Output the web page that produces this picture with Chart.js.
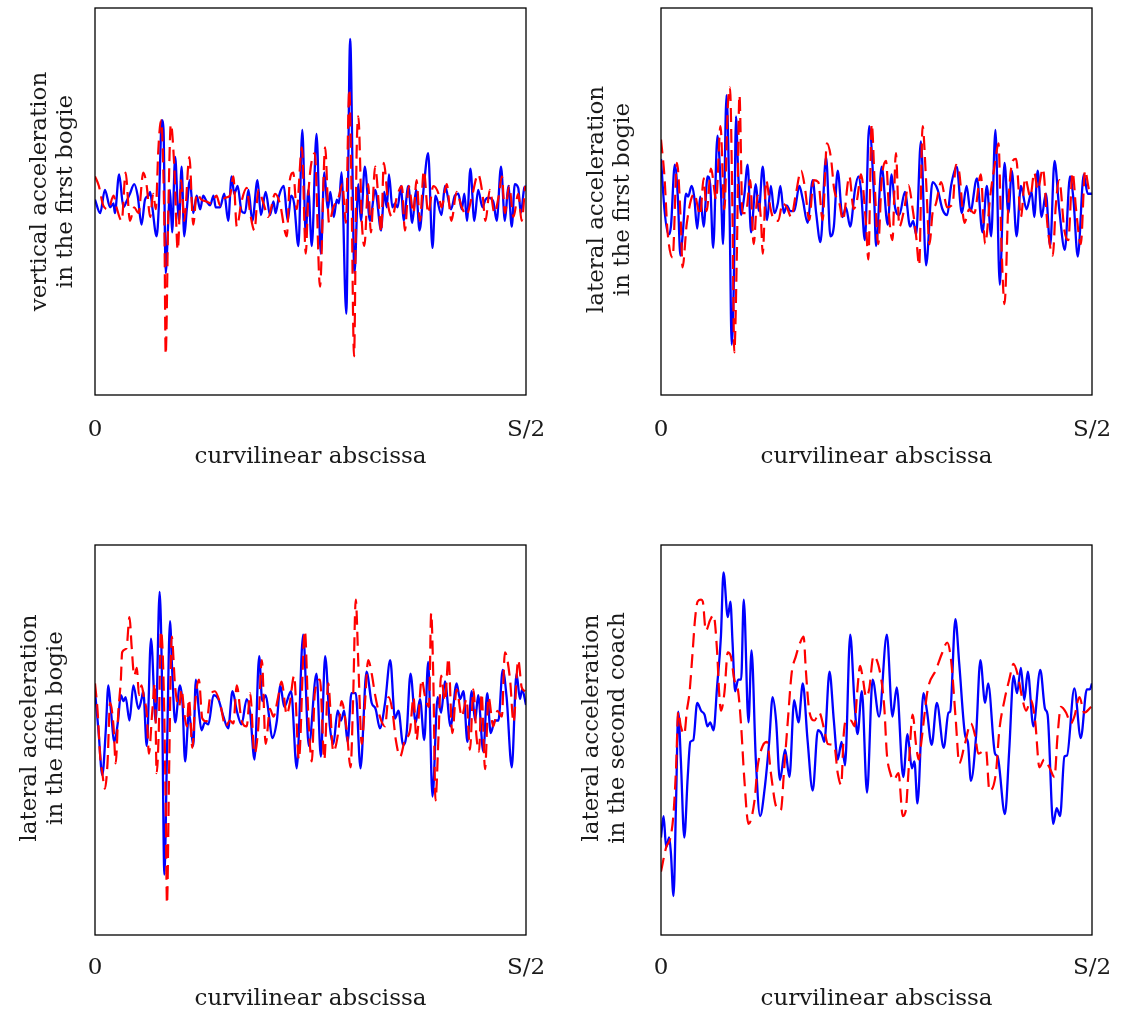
<!DOCTYPE html>
<html>
<head>
<meta charset="utf-8">
<script src="https://cdn.jsdelivr.net/npm/chart.js@4.4.1/dist/chart.umd.min.js"></script>
<style>
  html, body { margin: 0; padding: 0; background: #ffffff; }
  body { width: 1123px; height: 1014px; position: relative; overflow: hidden; }
  canvas { position: absolute; }
</style>
</head>
<body>
<canvas id="c1" width="561" height="507" style="left:0px;top:0px"></canvas>
<canvas id="c2" width="561" height="507" style="left:566px;top:0px"></canvas>
<canvas id="c3" width="561" height="507" style="left:0px;top:507px"></canvas>
<canvas id="c4" width="561" height="507" style="left:566px;top:507px"></canvas>
<script>
// ---------- DATA (abscissa in % of S/2, acceleration in arbitrary units) ----------
const xTickValues = [0, 100];
const xTickLabels = ['0', 'S/2'];
const xAxisTitle = 'curvilinear abscissa';

const panelTitles = [
  ['vertical acceleration', 'in the first bogie'],
  ['lateral acceleration', 'in the first bogie'],
  ['lateral acceleration', 'in the fifth bogie'],
  ['lateral acceleration', 'in the second coach']
];

// Panel 1 : vertical acceleration, first bogie
const vertBogie1Solid = [[0,0.1],[1.2,-0.6],[2.3,0.6],[3.5,-0.3],[4.3,-0.1],[4.6,-0.6],[5.6,1.4],[6.6,-0.3],[7.3,0.0],[8.1,0.4],[9.1,0.9],[9.9,0.3],[10.8,-1.2],[11.6,0.1],[12.4,0.3],[12.8,0.5],[13.3,-0.3],[14.3,-1.8],[14.8,-0.3],[15.5,4.2],[15.9,3.7],[16.4,-3.7],[17.0,-1.0],[17.4,0.6],[17.9,-1.6],[18.6,2.3],[19.2,-0.3],[19.5,-1.0],[20.1,1.8],[20.7,-1.8],[21.3,-0.4],[22.0,1.1],[22.8,-0.6],[23.6,0.3],[24.4,-0.4],[25.1,0.3],[25.9,0.0],[26.7,-0.2],[27.5,0.3],[28.0,-0.3],[29.0,-0.3],[30.0,0.4],[30.9,-1.0],[31.7,1.3],[32.3,0.4],[33.1,0.8],[34.0,-0.5],[34.8,-0.6],[35.6,0.6],[36.5,-1.0],[37.7,1.1],[38.5,-0.7],[39.6,0.5],[40.6,-0.7],[41.4,0.0],[41.9,-0.6],[42.7,0.3],[43.8,0.8],[44.7,-1.0],[45.5,0.3],[46.2,-0.1],[47.2,-2.3],[48.1,3.7],[48.9,-1.7],[49.5,0.6],[50.3,-2.3],[51.4,3.5],[52.4,-2.7],[53.2,1.5],[54.0,-0.4],[54.6,0.5],[55.4,-0.8],[56.1,0.1],[56.6,-0.1],[57.2,1.5],[58.3,-5.8],[59.2,8.4],[60.2,-3.7],[61.1,0.9],[61.7,-1.0],[62.6,1.8],[63.8,-1.0],[65.0,0.6],[66.4,-1.5],[67.1,0.5],[67.7,-0.3],[68.2,1.4],[69.0,-0.3],[69.6,-0.1],[70.2,-0.3],[71.0,0.8],[71.6,-1.0],[72.7,0.8],[73.6,-1.1],[74.5,0.6],[75.3,-1.5],[76.3,0.8],[77.3,2.5],[78.3,-2.4],[79.0,0.3],[80.4,-0.7],[81.2,0.8],[82.6,-0.4],[83.5,0.3],[84.3,0.4],[85.1,-0.4],[85.7,0.4],[86.3,-1.0],[87.1,1.7],[88.0,-1.0],[88.9,0.6],[89.9,-0.3],[90.6,0.1],[91.3,0.2],[92.4,0.0],[93.2,-1.0],[94.2,1.8],[95.1,-1.0],[95.9,0.8],[96.7,-1.3],[97.4,0.9],[98.2,0.7],[98.8,-0.6],[99.6,0.7],[100,0.8]];
const vertBogie1Dashed = [[0,1.3],[0.9,0.8],[1.9,-0.2],[3.1,-0.4],[4.3,0.3],[5.0,-0.3],[6.2,-1.0],[7.1,1.5],[8.1,-1.0],[9.1,-0.3],[10.1,-0.6],[11.2,1.5],[12.0,0.8],[12.8,-0.8],[13.5,0.4],[14.1,-0.4],[14.7,2.7],[15.3,4.2],[16.1,-1.3],[16.4,-7.9],[17.0,-0.6],[17.6,4.0],[18.4,1.8],[19.2,-2.5],[20.0,1.1],[20.7,-1.0],[21.9,2.3],[22.8,-1.2],[23.6,0.4],[24.7,0.1],[25.8,0.0],[27.1,-0.1],[28.2,0.3],[29.0,-0.2],[30.2,0.2],[31.3,0.3],[32.1,1.3],[32.9,-1.3],[34.0,0.0],[35.2,0.7],[36.0,-0.6],[37.0,-1.5],[37.9,0.6],[39.1,-0.1],[40.2,-0.8],[41.8,0.4],[42.9,-0.1],[44.5,-1.8],[45.2,1.1],[46.0,1.5],[46.8,-0.4],[48.0,2.8],[48.9,-2.7],[49.5,0.4],[51.0,2.5],[52.2,-4.4],[53.4,2.8],[54.3,-1.1],[55.3,-0.3],[56.5,0.2],[57.4,0.9],[58.2,-1.1],[59.0,5.8],[59.5,0.8],[60.1,-8.0],[60.7,2.5],[61.1,4.4],[61.9,-1.0],[62.5,-2.3],[63.4,0.9],[64.0,-1.6],[65.0,1.8],[65.9,-0.3],[66.4,-1.6],[67.0,2.0],[68.1,-0.3],[69.0,-0.8],[70.0,0.2],[71.2,0.8],[71.9,-1.5],[72.8,0.8],[73.9,-0.6],[74.6,1.1],[75.4,-1.0],[76.3,1.6],[77.3,-0.6],[78.5,0.8],[79.7,0.4],[80.4,-0.3],[81.6,0.9],[82.7,-1.0],[83.9,0.5],[85.1,-0.3],[86.2,-0.7],[87.4,0.2],[88.9,1.4],[89.9,0.4],[90.6,-1.0],[91.6,0.6],[92.7,-0.6],[93.6,0.2],[94.4,1.3],[95.1,-0.6],[96.1,0.8],[97.1,-0.8],[98.2,0.4],[99.0,-1.0],[99.8,0.8]];

// Panel 2 : lateral acceleration, first bogie
const latBogie1Solid = [[0,2.2],[0.8,-0.4],[1.7,-1.7],[2.3,-1.3],[3.2,1.9],[3.9,0.25],[4.5,-2.8],[5.1,-1.5],[5.8,0.4],[6.3,0.25],[7.1,0.8],[7.7,0.25],[8.4,-1.4],[9.1,0.25],[9.9,-1.3],[10.8,1.3],[11.4,0.9],[12.1,-2.4],[13.1,3.4],[13.9,0.6],[14.4,-2.2],[15.2,5.5],[15.9,-0.4],[16.4,-7.4],[16.9,-4.1],[17.4,4.4],[17.9,1.5],[18.6,-0.7],[19.3,0.25],[20.1,1.9],[20.9,-1.6],[22.0,0.9],[22.7,-0.5],[23.6,1.8],[24.6,-0.96],[25.5,0.8],[26.3,-0.6],[27.1,-0.1],[27.7,0.8],[28.5,-0.6],[29.2,-0.2],[30.0,-0.5],[30.9,-0.5],[32.1,0.8],[32.9,0.1],[34.0,-1.1],[35.2,1.1],[36.0,-0.6],[37.0,-2.1],[38.3,2.3],[39.3,-1.8],[40.1,-1.3],[41.0,1.6],[42.1,-0.8],[42.9,-0.3],[43.9,-1.3],[45.0,0.6],[45.8,1.3],[46.4,0.6],[47.3,-2.0],[48.3,3.9],[49.5,-0.1],[49.9,-2.3],[51.2,1.8],[52.6,-1.2],[53.5,1.4],[54.3,-0.3],[55.3,-0.7],[56.6,0.5],[57.8,-1.3],[58.5,-1.0],[59.2,-1.7],[60.3,3.1],[61.5,-3.3],[63.0,1.0],[64.2,0.6],[65.3,-0.4],[66.4,-0.7],[67.3,0.8],[68.6,1.8],[69.8,-0.6],[70.9,0.8],[71.8,-0.5],[73.3,1.2],[74.6,-1.6],[75.6,0.8],[76.6,-1.8],[77.6,3.7],[78.6,-4.3],[79.7,2.0],[80.6,-0.6],[81.4,1.6],[82.5,-1.8],[83.5,0.8],[84.8,-0.4],[86.0,0.5],[86.6,-0.8],[87.4,1.6],[88.3,-0.8],[89.3,0.4],[90.3,-2.3],[91.3,2.1],[92.4,-0.4],[93.7,-2.5],[94.9,1.3],[95.7,0.1],[96.7,-2.85],[98.1,1.4],[99.0,0.4],[100,0.4]];
const latBogie1Dashed = [[0,3.2],[0.8,1.3],[1.5,-1.5],[2.7,-2.9],[3.7,2.0],[4.6,-1.1],[5.0,-3.4],[6.0,-1.1],[7.7,0.4],[9.1,-0.7],[9.9,1.2],[10.6,-0.5],[11.6,1.7],[12.8,0.1],[13.8,3.9],[14.7,-0.4],[15.5,4.9],[16.0,5.9],[16.6,-0.96],[17.0,-7.8],[17.6,-2.7],[18.2,5.5],[18.9,-0.6],[19.7,-0.6],[20.7,1.1],[21.5,-2.2],[22.4,0.3],[23.2,-0.96],[23.6,-2.7],[24.4,1.1],[25.4,-0.35],[26.3,-0.96],[27.2,-1.0],[28.2,-0.1],[29.2,-0.3],[30.2,-0.8],[31.3,0.4],[32.5,1.6],[33.4,0.7],[34.4,-0.96],[35.4,1.1],[36.5,1.0],[37.5,-0.96],[38.5,3.0],[39.4,2.3],[40.2,0.6],[41.4,-0.1],[42.2,-0.96],[43.7,1.3],[44.7,-0.4],[45.5,0.1],[46.4,1.4],[47.6,-1.3],[48.1,-3.0],[48.9,4.0],[49.6,0.8],[50.4,-2.2],[51.2,1.1],[52.2,2.1],[53.0,-0.96],[53.7,-2.0],[54.5,2.5],[55.3,-1.3],[56.5,-0.3],[57.4,0.85],[58.4,-0.4],[59.2,-1.8],[59.9,-3.3],[60.7,3.9],[61.5,1.1],[62.3,-2.2],[63.0,-0.6],[63.8,-0.1],[65.0,1.0],[66.4,-0.3],[67.7,-0.1],[68.4,1.9],[69.2,1.5],[70.4,-1.1],[71.5,-0.4],[72.7,-0.6],[74.2,1.4],[75.2,-2.2],[76.4,0.3],[77.5,2.0],[78.3,3.0],[79.0,-2.3],[79.7,-5.3],[80.6,-0.1],[81.6,2.1],[82.4,2.2],[83.5,-0.8],[84.5,1.2],[85.7,0.25],[86.6,1.5],[87.4,0.6],[88.6,1.7],[89.7,-1.3],[90.9,-2.8],[91.6,-0.2],[92.4,1.1],[93.6,-1.5],[94.5,-2.0],[95.5,1.5],[96.3,-0.4],[97.4,-2.2],[98.4,1.6],[99.4,0.6],[100,0.8]];

// Panel 3 : lateral acceleration, fifth bogie
const latBogie5Solid = [[0,2.5],[0.8,0.5],[1.7,-1.8],[2.5,0.5],[3.1,2.8],[3.7,1.5],[4.5,-0.1],[5.3,0.9],[6.0,2.3],[6.6,2.0],[7.1,2.2],[8.0,1.0],[8.9,2.8],[10.1,1.6],[10.8,2.1],[11.2,2.5],[12.0,-0.3],[13.0,5.2],[14.1,0.9],[15.0,7.6],[15.5,3.6],[16.1,-6.9],[16.7,-0.7],[17.4,6.1],[17.9,3.6],[18.6,0.9],[19.7,2.8],[20.3,1.9],[20.9,-1.1],[21.8,1.4],[22.8,-0.3],[23.4,3.1],[24.1,1.5],[24.7,0.5],[25.5,0.9],[26.3,0.8],[27.5,2.3],[28.6,2.1],[29.8,1.2],[30.9,0.6],[31.9,2.5],[32.9,1.5],[34.0,0.8],[35.2,2.1],[36.0,1.4],[37.0,-1.0],[38.1,4.3],[38.8,2.0],[39.6,2.3],[40.4,1.2],[41.1,0.1],[42.2,1.0],[43.0,2.8],[43.9,1.7],[45.5,2.5],[46.8,-1.45],[48.3,5.4],[49.6,-0.3],[51.4,3.4],[52.4,-0.85],[53.4,4.3],[54.5,0.7],[55.3,-0.2],[56.3,1.5],[57.1,1.0],[57.8,1.5],[58.6,-0.1],[59.5,2.4],[60.5,2.4],[61.6,-1.45],[63.0,3.5],[64.2,1.9],[65.1,1.6],[66.1,0.6],[67.3,1.9],[68.5,4.1],[69.6,1.1],[70.4,1.5],[71.5,-0.25],[72.3,0.35],[73.2,3.4],[74.4,0.9],[75.4,2.1],[76.4,0.0],[77.3,4.0],[78.3,-2.9],[79.5,2.2],[80.3,1.4],[81.2,3.0],[82.5,0.7],[83.9,2.9],[84.7,2.1],[85.5,2.5],[86.4,-0.1],[87.4,2.5],[88.2,1.0],[88.9,2.3],[90.1,-0.6],[91.0,2.4],[91.8,0.35],[92.8,1.0],[93.6,1.0],[94.6,3.6],[95.5,2.2],[96.7,-1.4],[97.8,3.4],[98.6,2.1],[99.1,2.6],[100,1.8]];
const latBogie5Dashed = [[0,2.9],[0.6,1.5],[1.2,-0.85],[1.7,-1.7],[2.3,-2.5],[2.9,-1.2],[3.5,1.9],[4.3,0.7],[4.8,-1.2],[5.4,1.4],[6.0,3.1],[6.3,4.5],[7.3,4.7],[8.0,6.3],[8.5,4.8],[9.1,3.3],[9.7,3.7],[10.2,2.3],[10.8,2.8],[11.4,2.1],[12.0,1.4],[12.5,-0.7],[13.3,1.5],[13.9,2.9],[14.3,-1.7],[14.8,0.5],[15.3,5.6],[15.9,3.1],[16.4,-3.2],[16.7,-8.4],[17.2,-1.5],[17.8,5.3],[18.6,2.7],[19.5,1.7],[20.1,2.6],[20.7,1.4],[21.3,0.7],[21.8,2.1],[22.6,-0.4],[23.2,1.8],[24.1,3.1],[24.9,1.1],[25.9,0.95],[26.7,2.2],[27.8,2.5],[29.0,1.9],[30.3,0.7],[31.3,1.0],[32.1,0.85],[32.9,2.8],[34.0,1.0],[35.2,0.7],[36.0,2.4],[37.0,-0.7],[37.9,0.7],[38.7,4.1],[39.6,-0.2],[40.6,1.6],[41.4,1.2],[42.4,2.1],[43.3,3.0],[44.5,1.3],[45.2,1.9],[46.2,3.3],[47.3,-1.0],[48.7,5.6],[49.5,1.2],[50.3,-1.1],[51.0,2.4],[52.2,3.1],[53.2,-1.0],[54.1,2.9],[55.3,-0.6],[56.5,0.5],[57.2,2.0],[58.4,0.5],[59.3,-1.4],[59.9,2.2],[60.5,7.2],[61.1,3.9],[61.9,-0.2],[62.5,1.4],[63.4,4.1],[64.2,3.4],[65.0,2.3],[66.1,1.2],[67.3,0.7],[68.1,2.2],[69.0,1.5],[69.8,0.0],[70.8,-0.85],[71.9,0.0],[73.1,0.5],[73.9,2.2],[74.6,0.0],[75.8,3.1],[76.6,2.2],[77.5,1.7],[78.0,6.5],[78.5,3.1],[79.0,-3.1],[79.7,0.2],[80.3,3.3],[81.2,2.0],[82.0,4.2],[82.9,0.35],[83.9,2.6],[85.1,1.2],[86.2,2.1],[87.0,-0.5],[87.8,2.6],[88.5,0.2],[89.1,-0.6],[89.7,2.4],[90.5,-1.5],[91.3,2.2],[92.4,0.7],[93.4,1.5],[94.4,1.2],[95.1,4.5],[96.3,3.1],[97.1,0.9],[98.2,4.1],[99.0,2.7],[99.8,2.5]];

// Panel 4 : lateral acceleration, second coach
const latCoach2Solid = [[0,-5.0],[0.6,-3.9],[1.2,-5.5],[1.9,-5.0],[2.3,-5.8],[2.9,-8.0],[3.5,-3.1],[4.0,1.45],[4.6,-1.0],[5.4,-5.0],[6.2,-1.9],[6.8,-0.1],[7.5,0.0],[8.4,1.9],[9.3,1.5],[10.1,1.3],[10.8,0.7],[11.4,0.9],[12.2,0.5],[13.0,2.7],[13.9,5.3],[14.5,8.6],[15.5,6.3],[16.1,7.1],[16.6,5.0],[17.2,2.5],[17.9,3.1],[18.6,3.1],[19.2,7.2],[20.3,0.9],[21.0,4.6],[22.0,-1.0],[23.0,-3.9],[24.1,-2.4],[25.1,-0.1],[25.9,2.2],[26.7,1.0],[27.6,-2.05],[28.8,-0.5],[29.8,-1.9],[30.9,2.05],[31.9,0.9],[32.9,2.9],[34.0,0.0],[35.2,-2.6],[36.4,0.5],[37.3,0.3],[37.9,-0.1],[39.1,3.5],[40.1,1.0],[41.0,-1.0],[41.9,-0.1],[42.7,-1.3],[43.9,5.4],[44.9,1.9],[45.6,0.3],[46.6,2.5],[47.8,-2.7],[49.1,3.1],[50.6,1.2],[52.4,5.4],[53.7,1.2],[54.7,2.7],[56.2,-1.9],[57.2,0.3],[58.2,-1.45],[58.8,-1.1],[59.5,-3.25],[60.9,2.4],[61.7,1.5],[62.8,-0.25],[64.0,1.9],[65.6,-0.4],[66.7,1.4],[67.1,1.45],[68.3,6.2],[69.2,3.9],[70.6,0.2],[71.2,-0.1],[71.9,-2.1],[73.1,0.2],[74.1,4.1],[75.2,1.9],[75.9,2.9],[77.5,-0.7],[78.1,-0.85],[79.8,-3.8],[80.8,-0.5],[81.8,3.3],[82.6,2.4],[83.5,3.7],[84.3,2.05],[85.1,3.5],[86.4,0.7],[88.0,3.6],[89.1,1.6],[89.7,1.3],[91.0,-4.3],[91.8,-3.5],[92.6,-3.9],[93.6,-0.85],[94.2,-0.8],[95.9,2.65],[97.4,0.1],[98.8,2.6],[99.5,2.6],[100,2.9]];
const latCoach2Dashed = [[0,-6.75],[1.2,-5.5],[2.2,-5.0],[2.9,-3.8],[3.5,-1.4],[4.0,1.45],[4.6,0.7],[5.4,0.3],[6.0,1.5],[6.6,2.4],[7.3,4.4],[7.9,6.2],[8.5,7.1],[9.3,7.2],[9.7,7.1],[10.4,5.6],[11.4,6.15],[12.2,6.4],[13.0,4.6],[13.5,2.4],[13.9,1.5],[14.7,2.4],[15.5,4.5],[16.2,4.3],[17.0,3.1],[17.9,2.5],[18.6,0.7],[19.3,-1.9],[20.3,-4.3],[21.7,-3.1],[22.4,-1.4],[23.6,-0.3],[24.6,-0.1],[25.5,-1.7],[26.7,-3.4],[27.8,-3.6],[28.6,-1.4],[29.4,0.9],[30.3,3.4],[31.3,4.3],[32.3,5.0],[33.1,5.3],[33.6,3.6],[34.4,1.5],[35.6,1.0],[36.7,1.4],[37.9,0.5],[38.7,-0.2],[40.2,-0.3],[41.0,-1.7],[41.8,-2.3],[42.4,0.3],[42.9,1.0],[44.1,1.0],[44.9,0.7],[45.5,2.4],[46.2,3.8],[46.8,3.2],[47.6,2.2],[48.3,2.6],[49.3,4.3],[51.0,3.25],[51.8,1.7],[52.4,-0.7],[53.2,-1.7],[54.0,-2.05],[55.1,-1.7],[56.1,-3.9],[56.8,-3.6],[57.4,-1.7],[58.4,1.3],[59.2,-0.3],[59.8,-1.0],[60.3,-0.3],[60.9,0.85],[61.9,2.6],[63.8,3.6],[65.3,4.5],[66.4,5.0],[67.3,4.1],[68.4,1.0],[69.2,-1.2],[70.4,-0.3],[71.9,0.85],[72.9,0.2],[73.6,-0.7],[75.4,-0.5],[76.2,-2.6],[77.7,-1.7],[78.5,0.5],[79.7,2.05],[80.8,3.1],[81.8,3.9],[82.7,3.4],[83.9,2.05],[84.7,1.5],[85.8,2.05],[86.8,1.0],[87.8,-1.4],[88.9,-1.0],[90.1,-1.4],[91.3,-1.9],[92.0,0.2],[92.8,1.7],[94.0,1.4],[95.1,0.85],[95.9,1.2],[97.1,2.2],[98.2,1.4],[99.8,1.7]];

// ---------- CHART SETUP ----------
const FONT_FAMILY = "'DejaVu Serif', 'Liberation Serif', serif";
const FONT_SIZE = 23;
const LINE_H = 26 / 23;
const TEXT_COLOR = '#1a1a1a';

const framePlugin = {
  id: 'frame',
  afterDraw(chart) {
    const a = chart.chartArea, ctx = chart.ctx;
    ctx.save();
    ctx.strokeStyle = '#000000';
    ctx.lineWidth = 1.3;
    ctx.strokeRect(a.left, a.top, a.right - a.left, a.bottom - a.top);
    ctx.restore();
  }
};

// nudges the (tick-less) y-axis box so its title sits slightly above the frame centre
const yTitleShiftPlugin = {
  id: 'yTitleShift',
  afterLayout(chart, args, opts) {
    const s = chart.scales.y;
    if (s && opts && opts.shift) { s.top += opts.shift; s.bottom += opts.shift; }
  }
};

function toPts(arr) { return arr.map(p => ({ x: p[0], y: p[1] })); }

function makeChart(id, solid, dashed, title, geo) {
  const ctx = document.getElementById(id).getContext('2d');
  return new Chart(ctx, {
    type: 'line',
    data: {
      datasets: [
        {
          data: toPts(dashed),
          borderColor: '#ff0000',
          borderWidth: 2.2,
          borderDash: [14, 7],
          pointRadius: 0,
          cubicInterpolationMode: 'monotone',
          fill: false,
          order: 0
        },
        {
          data: toPts(solid),
          borderColor: '#0000ff',
          borderWidth: 2.3,
          pointRadius: 0,
          cubicInterpolationMode: 'monotone',
          fill: false,
          order: 1
        }
      ]
    },
    options: {
      responsive: false,
      animation: false,
      devicePixelRatio: 1,
      events: [],
      layout: { padding: { left: 0, right: 35, top: geo.top, bottom: geo.bottom } },
      plugins: {
        legend: { display: false }, tooltip: { enabled: false }, title: { display: false },
        yTitleShift: { shift: geo.titleShift }
      },
      scales: {
        x: {
          type: 'linear',
          min: 0, max: 100,
          grid: { display: false },
          border: { display: false },
          afterBuildTicks: (axis) => { axis.ticks = xTickValues.map(v => ({ value: v })); },
          afterFit: (scale) => { scale.height = 75; scale.paddingLeft = 0; scale.paddingRight = 0; },
          ticks: {
            autoSkip: false, maxRotation: 0, padding: geo.tickPad,
            color: TEXT_COLOR,
            font: { family: FONT_FAMILY, size: FONT_SIZE, lineHeight: LINE_H },
            callback: (v) => xTickLabels[xTickValues.indexOf(v)]
          },
          title: {
            display: true, text: xAxisTitle, color: TEXT_COLOR,
            padding: { top: 0, bottom: geo.titleBottom },
            font: { family: FONT_FAMILY, size: FONT_SIZE, lineHeight: LINE_H }
          }
        },
        y: {
          type: 'linear',
          min: -10, max: 10,
          grid: { display: false },
          border: { display: false },
          ticks: { display: false },
          afterFit: (scale) => { scale.width = 95; scale.paddingTop = 0; scale.paddingBottom = 0; },
          title: {
            display: true, text: title, color: TEXT_COLOR,
            padding: { top: geo.titlePad, bottom: 0 },
            font: { family: FONT_FAMILY, size: FONT_SIZE, lineHeight: LINE_H }
          }
        }
      }
    },
    plugins: [framePlugin, yTitleShiftPlugin]
  });
}

makeChart('c1', vertBogie1Solid, vertBogie1Dashed, panelTitles[0], { top: 8, bottom: 37, tickPad: 14, titleBottom: 0, titlePad: 27, titleShift: -10 });
makeChart('c2', latBogie1Solid, latBogie1Dashed, panelTitles[1], { top: 8, bottom: 37, tickPad: 14, titleBottom: 0, titlePad: 18, titleShift: -2 });
makeChart('c3', latBogie5Solid, latBogie5Dashed, panelTitles[2], { top: 38, bottom: 4, tickPad: 12, titleBottom: -2, titlePad: 17, titleShift: -12 });
makeChart('c4', latCoach2Solid, latCoach2Dashed, panelTitles[3], { top: 38, bottom: 4, tickPad: 12, titleBottom: -2, titlePad: 13, titleShift: -12 });
</script>
</body>
</html>
